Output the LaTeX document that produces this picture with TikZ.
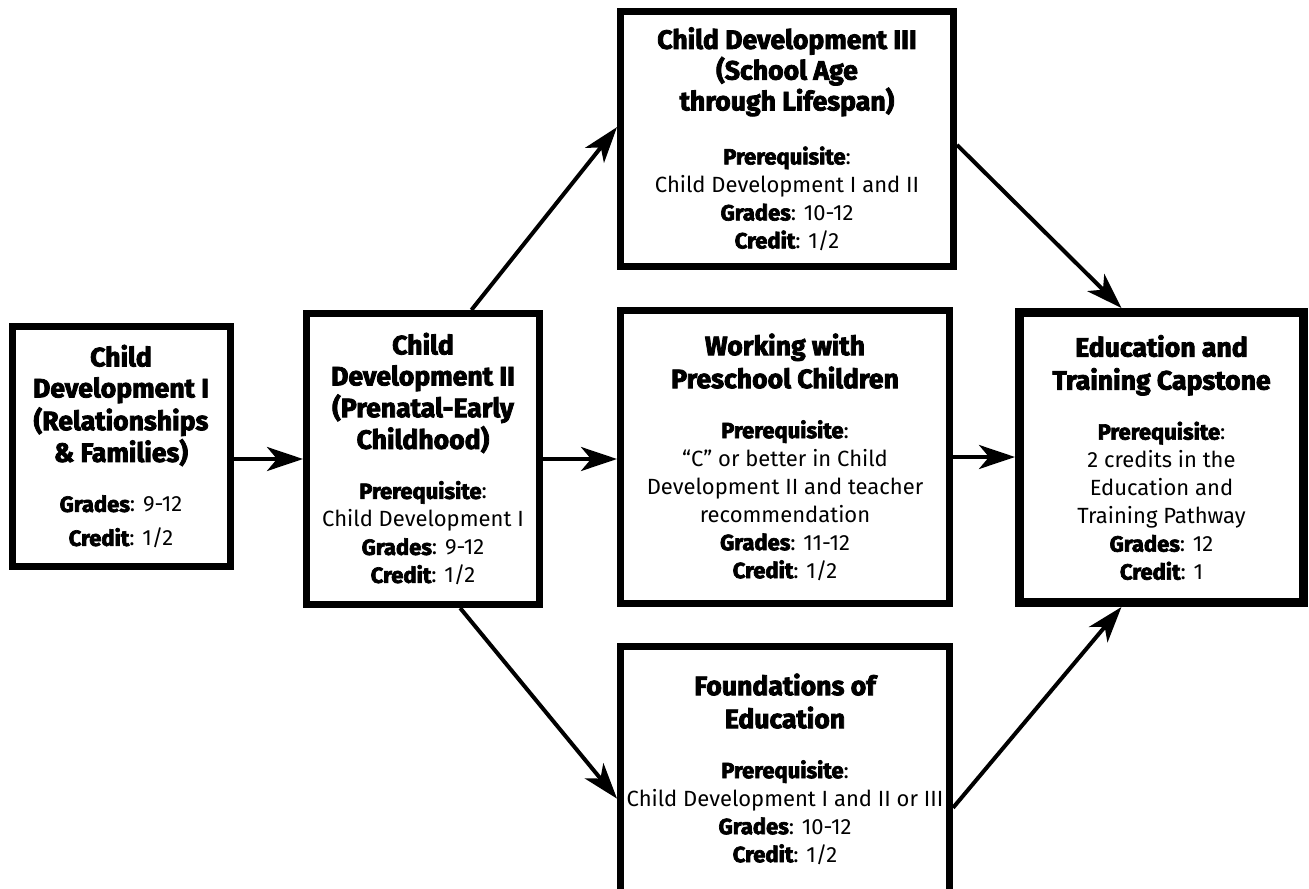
\documentclass[tikz,border=0pt]{standalone}
\usepackage{fontspec}
\setmainfont{Fira Sans}
\newfontfamily\heavyfont{Fira Sans}[BoldFeatures={FakeBold=3}]
\newcommand{\headfont}{\heavyfont\bfseries}
\usetikzlibrary{calc}
\usetikzlibrary{arrows.meta}
\usetikzlibrary{positioning}
\tikzset{course/.style={draw=black, line width=3.5pt, fill=white, align=center, inner sep=1pt, font=\fontsize{11}{14}\selectfont}}
\newcommand{\hd}[1]{{\headfont\fontsize{13.3}{16.5}\selectfont #1}}
\newcommand{\lb}[1]{{\headfont #1}}

\begin{document}
\begin{tikzpicture}[x=0.5pt,y=-0.5pt]
\tikzset{link/.style={line width=2pt, -{Stealth[length=18pt,width=12pt,inset=5pt]}}}
\tikzset{capbox/.style={course, line width=4.5pt}}

\useasboundingbox (0,0) rectangle (1309,888);
\clip (0,0) rectangle (1309,888);

% first course
\node[course, minimum width=109pt, minimum height=120pt] (cdI) at (121,446.5)
  {\hd{Child}\\[1.5pt] \hd{Development I}\\[1pt] \hd{(Relationships}\\[0.5pt] \hd{\& Families)}\\[11pt]
   \lb{Grades}: 9-12\\[3pt] \lb{Credit}: 1/2};

\node[course, minimum width=116.5pt, minimum height=145.5pt] (cdII) at (423,459)
  {\hd{Child}\\[1.5pt] \hd{Development II}\\[0.5pt] \hd{(Prenatal-Early}\\[0.5pt] \hd{Childhood)}\\[11pt]
   \lb{Prerequisite}:\\ Child Development I\\ \lb{Grades}: 9-12\\ \lb{Credit}: 1/2};

% middle column
\node[course, minimum width=166.5pt, minimum height=127.5pt] (cdIII) at (787,139)
  {\hd{Child Development III}\\[0pt] \hd{(School Age}\\[0pt] \hd{through Lifespan)}\\[13pt]
   \lb{Prerequisite}:\\ Child Development I and II\\ \lb{Grades}: 10-12\\ \lb{Credit}: 1/2};

\node[course, minimum width=164.5pt, minimum height=146.5pt] (work) at (785,457)
  {\hd{Working with}\\[2.5pt] \hd{Preschool Children}\\[11pt]
   \lb{Prerequisite}:\\ ``C'' or better in Child\\ Development II and teacher\\ recommendation\\
   \lb{Grades}: 11-12\\ \lb{Credit}: 1/2};

\node[course, minimum width=164.5pt, minimum height=123pt] (found) at (785,769)
  {\hd{Foundations of}\\[2.5pt] \hd{Education}\\[11pt]
   \lb{Prerequisite}:\\ Child Development I and II or III\\ \lb{Grades}: 10-12\\ \lb{Credit}: 1/2};

% capstone
\node[capbox, minimum width=142pt, minimum height=145pt] (cap) at (1161.5,457.5)
  {\hd{Education and}\\[2.5pt] \hd{Training Capstone}\\[11pt]
   \lb{Prerequisite}:\\ 2 credits in the\\ Education and\\ Training Pathway\\
   \lb{Grades}: 12\\ \lb{Credit}: 1};

\draw[link] (cdI.east |- cdII.west) -- (cdII.west);
\draw[link] (cdII.east) -- (work.west |- cdII.east);
\draw[link] (work.east) -- (cap.west |- work.east);
\draw[link] (cdII.72) -- (cdIII.176);
\draw[link] (cdII.284) -- (found.190);
\draw[link] (cdIII.-2) -- (cap.105);
\draw[link] (found.-13) -- (cap.255);
\end{tikzpicture}
\end{document}
